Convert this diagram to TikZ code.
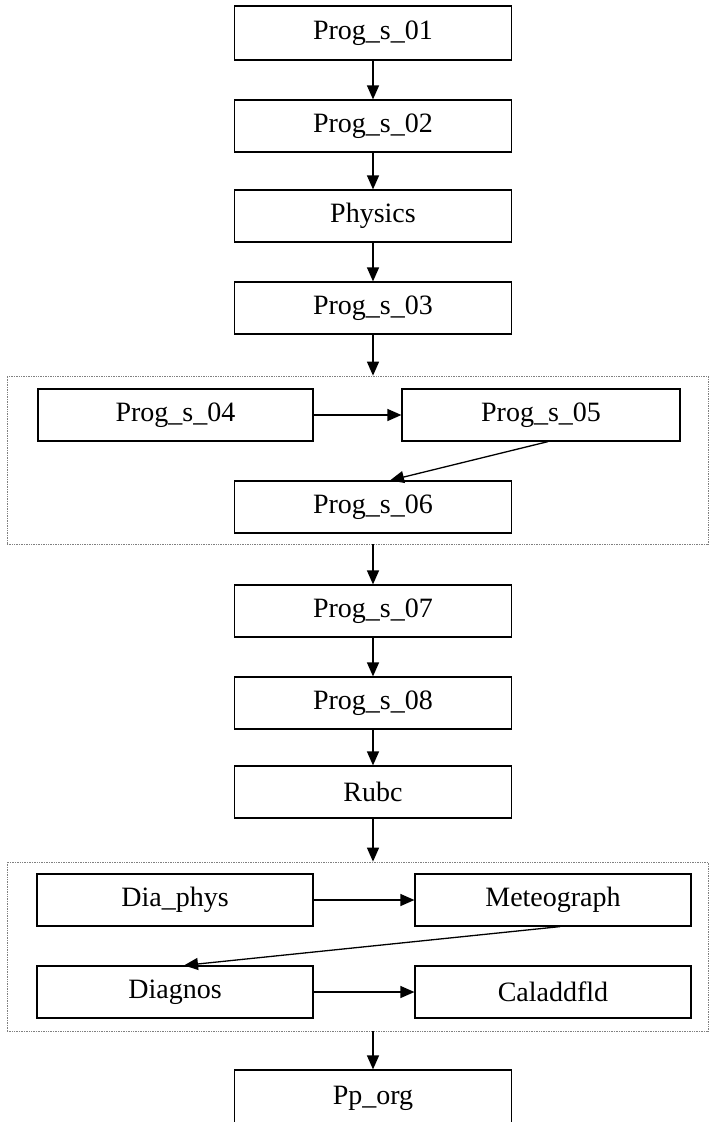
\documentclass[tikz,border=0pt]{standalone}
\usepackage{fontspec}
\setmainfont{Liberation Serif}
\usetikzlibrary{arrows.meta}

\tikzset{
  prog/.style={draw, line width=1.2pt, minimum width=277pt, minimum height=52pt, inner sep=0pt, font=\fontsize{28}{32}\selectfont},
  grp/.style={draw=gray, densely dotted, line width=0.7pt, inner sep=0pt},
  flow/.style={line width=1.3pt, -{Triangle[length=14pt,width=12pt]}}
}

\begin{document}
\begin{tikzpicture}[x=1pt, y=-1pt]
\useasboundingbox (0,0) rectangle (711,1122);
\node (grpA) [grp, minimum width=701pt, minimum height=168pt] at (357.5,460) {};
\node (grpB) [grp, minimum width=701pt, minimum height=169pt] at (357.5,946.5) {};
\node (p01) [prog, minimum height=54pt] at (373,33) {Prog\_s\_01};
\node (p02) [prog] at (373,126) {Prog\_s\_02};
\node (phys) [prog] at (373,216) {Physics};
\node (p03) [prog] at (373,308) {Prog\_s\_03};
\node (p04) [prog, minimum width=275pt] at (175.5,415) {Prog\_s\_04};
\node (p05) [prog, minimum width=278pt] at (541,415) {Prog\_s\_05};
\node (p06) [prog] at (373,507) {Prog\_s\_06};
\node (p07) [prog] at (373,611) {Prog\_s\_07};
\node (p08) [prog] at (373,703) {Prog\_s\_08};
\node (rubc) [prog] at (373,792) {Rubc};
\node (diaphys) [prog, minimum width=276pt] at (175,900) {Dia\_phys};
\node (meteo) [prog, minimum width=276pt] at (553,900) {Meteograph};
\node (diagnos) [prog, minimum width=276pt] at (175,992) {Diagnos};
\node (caladd) [prog, minimum width=276pt] at (553,992) {Caladdfld};
\node (pporg) [prog, minimum height=56pt] at (373,1098) {Pp\_org};
\draw [flow] (p01) -- (p02);
\draw [flow] (p02) -- (phys);
\draw [flow] (phys) -- (p03);
\draw [flow] (p03.south) -- (p03.south |- grpA.north);
\draw [flow] (p04) -- (p05);
\draw [flow] ([xshift=7pt]p05.south) -- ([xshift=17pt]p06.north);
\draw [flow] (p07.north |- grpA.south) -- (p07.north);
\draw [flow] (p07) -- (p08);
\draw [flow] (p08) -- (rubc);
\draw [flow] (rubc.south) -- (rubc.south |- grpB.north);
\draw [flow] (diaphys) -- (meteo);
\draw [flow] ([xshift=7pt]meteo.south) -- ([xshift=9pt]diagnos.north);
\draw [flow] (diagnos) -- (caladd);
\draw [flow] (pporg.north |- grpB.south) -- (pporg.north);
\end{tikzpicture}
\end{document}
